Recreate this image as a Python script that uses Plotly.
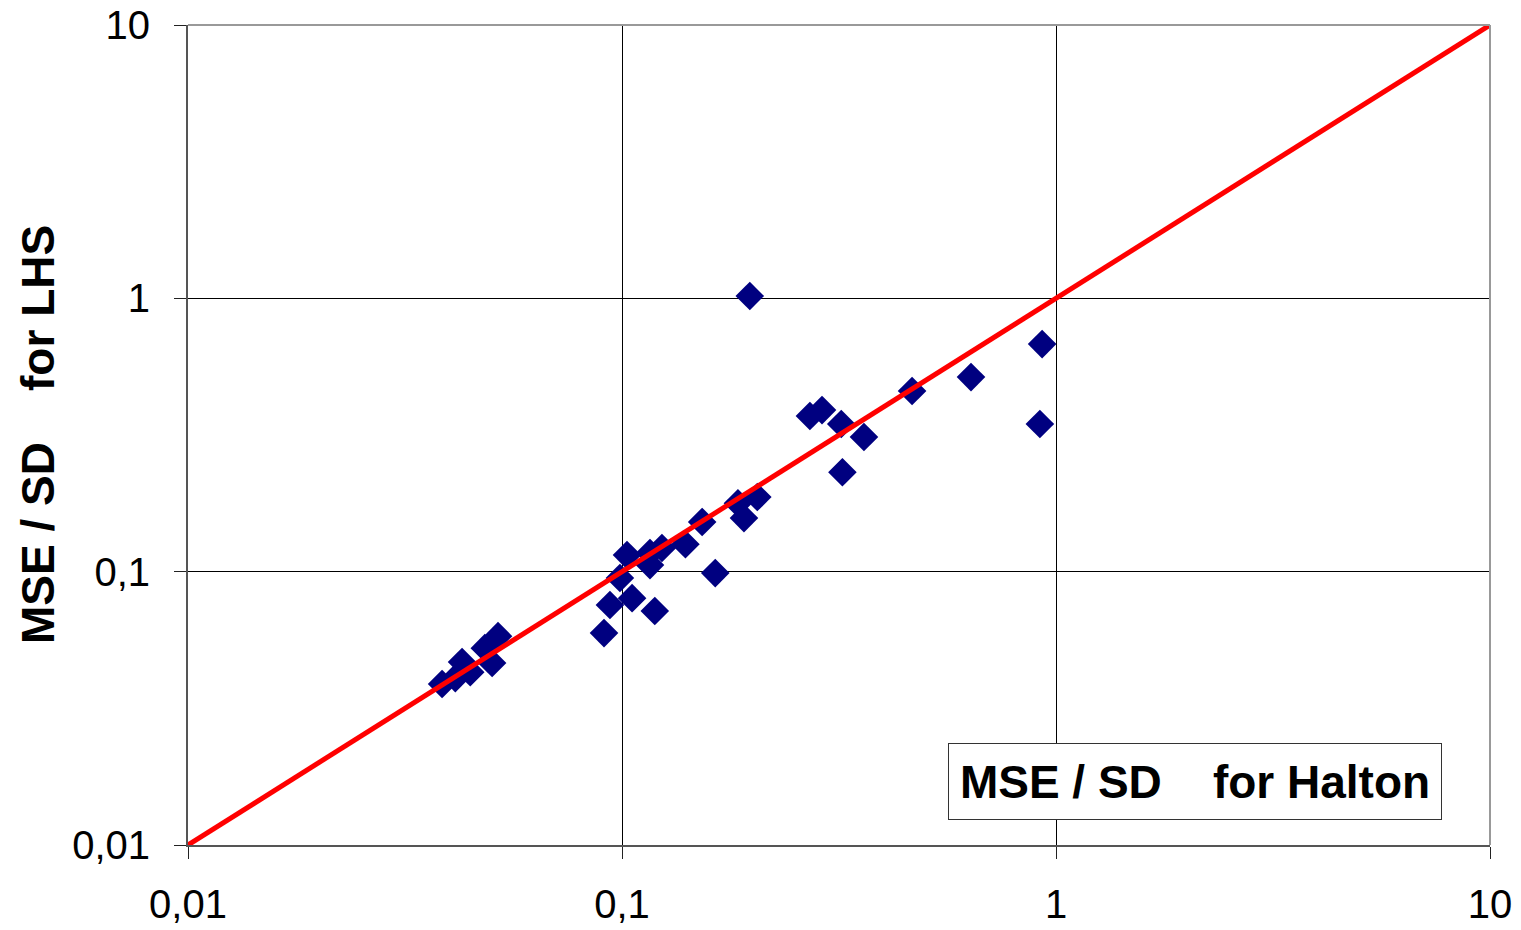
import plotly.graph_objects as go

# MSE/SD for Halton (x) vs MSE/SD for LHS (y)
halton = [0.197, 0.929, 0.918, 0.637, 0.466, 0.361, 0.320, 0.322, 0.289, 0.271,
          0.205, 0.185, 0.191, 0.153, 0.140, 0.164, 0.119,
          0.1027, 0.116, 0.1236, 0.116, 0.0989, 0.0938, 0.1055, 0.0909,
          0.0518, 0.0483, 0.0502, 0.0428, 0.0447, 0.0413, 0.0385]
lhs = [1.02, 0.68, 0.347, 0.515, 0.458, 0.311, 0.347, 0.231, 0.390, 0.371,
       0.1875, 0.178, 0.157, 0.152, 0.126, 0.0988, 0.0718,
       0.115, 0.117, 0.122, 0.1057, 0.0948, 0.0755, 0.080, 0.0596,
       0.0581, 0.0525, 0.0463, 0.0467, 0.0429, 0.0408, 0.0388]

diag_x = [0.01, 10]
diag_y = [0.01, 10]

tick_vals = [0.01, 0.1, 1, 10]
tick_text = ["0,01", "0,1", "1", "10"]

x_title = "MSE / SD\u00a0\u00a0\u00a0\u00a0for Halton"
y_title = "MSE / SD\u00a0\u00a0\u00a0\u00a0for LHS"

FONT = "Liberation Sans, Arial, sans-serif"

fig = go.Figure()
fig.add_trace(go.Scatter(
    x=halton, y=lhs, mode="markers",
    marker=dict(symbol="diamond", size=22, color="#000080",
                line=dict(width=0)),
    showlegend=False, cliponaxis=False))
fig.add_trace(go.Scatter(
    x=diag_x, y=diag_y, mode="lines",
    line=dict(color="#FF0000", width=5),
    showlegend=False, cliponaxis=False))

axis_common = dict(
    type="log", tickvals=tick_vals, ticktext=tick_text,
    showgrid=True, gridcolor="#000000", gridwidth=1,
    showline=True, linecolor="#555555", linewidth=2,
    ticks="outside", ticklen=12, tickwidth=1, tickcolor="#222222",
    tickfont=dict(family=FONT, size=40, color="#000000"),
    zeroline=False, automargin=False, ticklabeloverflow="allow",
)

fig.update_xaxes(range=[-2, 1], ticklabelstandoff=11, **axis_common)
fig.update_yaxes(range=[-2, 1], ticklabelstandoff=16, **axis_common)

# top and right frame lines (lighter gray)
fig.add_shape(type="line", xref="paper", yref="paper", x0=0, x1=1, y0=1, y1=1,
              line=dict(color="#999999", width=2), layer="above")
fig.add_shape(type="line", xref="paper", yref="paper", x0=1, x1=1, y0=0, y1=1,
              line=dict(color="#999999", width=2), layer="above")

W, H = 1521, 930
L, R, T, B = 188, 31, 25, 85
pw, ph = W - L - R, H - T - B

# x-axis title boxed inside plot (box centre at x=1195, y=781.5)
fig.add_annotation(
    text="<b>" + x_title + "</b>", xref="paper", yref="paper",
    x=(1195 - L) / pw, y=(H - B - 781.5) / ph,
    xanchor="center", yanchor="middle", showarrow=False,
    font=dict(family=FONT, size=46, color="#000000"),
    width=480, height=63, align="center",
    bgcolor="#FFFFFF", bordercolor="#333333", borderwidth=1, borderpad=6)

# y-axis title
fig.add_annotation(
    text="<b>" + y_title + "</b>", xref="paper", yref="paper",
    x=0, y=0.5, xshift=-(L - 38), xanchor="center", yanchor="middle",
    textangle=-90, showarrow=False,
    font=dict(family=FONT, size=46, color="#000000"))

fig.update_layout(
    width=W, height=H,
    margin=dict(l=L, r=R, t=T, b=B, autoexpand=False),
    paper_bgcolor="#FFFFFF", plot_bgcolor="#FFFFFF",
    showlegend=False,
)

fig.write_html("out.html",
               config={"displayModeBar": False},
               post_script="document.body.style.margin='0';document.body.style.overflow='hidden';")
